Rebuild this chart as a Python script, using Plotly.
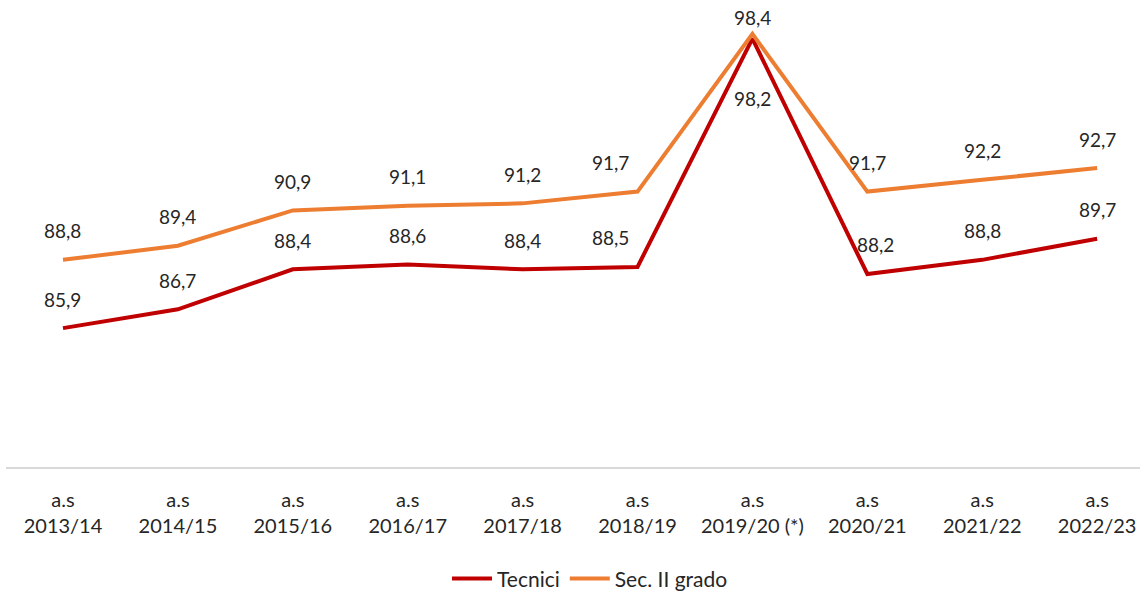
import plotly.graph_objects as go

categories = ["a.s<br>2013/14", "a.s<br>2014/15", "a.s<br>2015/16", "a.s<br>2016/17", "a.s<br>2017/18",
              "a.s<br>2018/19", "a.s<br>2019/20 (*)", "a.s<br>2020/21", "a.s<br>2021/22", "a.s<br>2022/23"]
tecnici = [85.9, 86.7, 88.4, 88.6, 88.4, 88.5, 98.2, 88.2, 88.8, 89.7]
sec_ii = [88.8, 89.4, 90.9, 91.1, 91.2, 91.7, 98.4, 91.7, 92.2, 92.7]

series_names = ["Tecnici", "Sec. II grado"]
colors = ["#C00000", "#ED7D31"]

FONT = "Lato"
TXT = "#262626"

fig = go.Figure()
idx = list(range(len(categories)))
for name, vals, col in [(series_names[0], tecnici, colors[0]), (series_names[1], sec_ii, colors[1])]:
    fig.add_trace(go.Scatter(x=idx, y=vals, name=name, mode="lines",
                             line=dict(color=col, width=4), hoverinfo="skip"))

annotations = []
n = len(idx)
for i in idx:
    t, s = tecnici[i], sec_ii[i]
    close = abs(s - t) < 1
    rise_next = i + 1 < n and tecnici[i + 1] - t > 5
    fall_prev = i > 0 and tecnici[i - 1] - t > 5
    xs_s = -27 if rise_next else 0
    xs_t = -27 if rise_next else (8 if fall_prev else 0)
    annotations.append(dict(x=i, y=s, text=f"{s:.1f}".replace(".", ","), showarrow=False,
                            xshift=xs_s, yshift=16 if close else 29,
                            font=dict(family=FONT, size=19, color=TXT)))
    annotations.append(dict(x=i, y=t, text=f"{t:.1f}".replace(".", ","), showarrow=False,
                            xshift=xs_t, yshift=-60 if close else 29,
                            font=dict(family=FONT, size=19, color=TXT)))

fig.update_layout(
    width=1140, height=593,
    margin=dict(l=6, r=0, t=0, b=126),
    paper_bgcolor="white", plot_bgcolor="white",
    font=dict(family=FONT, size=19, color=TXT),
    annotations=annotations,
    showlegend=True,
    legend=dict(orientation="h", x=0.515, xanchor="center", yref="container", y=0.024, yanchor="middle",
                font=dict(family=FONT, size=21, color=TXT), itemwidth=40),
    xaxis=dict(tickmode="array", tickvals=idx, ticktext=categories, range=[-0.496, 9.373],
               showgrid=False, zeroline=False, showline=True, linecolor="#D9D9D9", linewidth=1.5,
               ticks="", ticklabelstandoff=14, tickfont=dict(family=FONT, size=20, color=TXT),
               automargin=False),
    yaxis=dict(range=[80, 99.84], visible=False, showgrid=False, zeroline=False),
)

fig.write_html("out.html", config={"displayModeBar": False},
               post_script="document.body.style.margin='0';")
